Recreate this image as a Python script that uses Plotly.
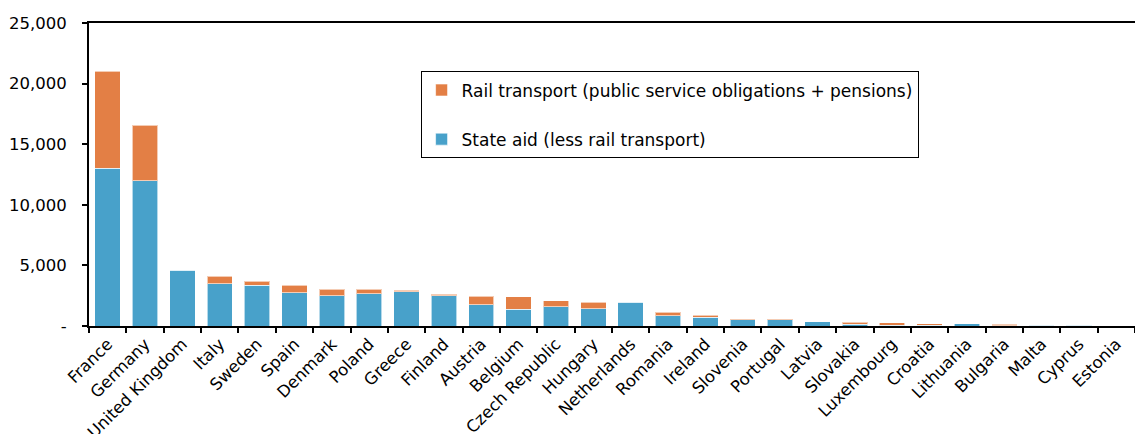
import plotly.graph_objects as go

countries = ["France", "Germany", "United Kingdom", "Italy", "Sweden", "Spain",
             "Denmark", "Poland", "Greece", "Finland", "Austria", "Belgium",
             "Czech Republic", "Hungary", "Netherlands", "Romania", "Ireland",
             "Slovenia", "Portugal", "Latvia", "Slovakia", "Luxembourg", "Croatia",
             "Lithuania", "Bulgaria", "Malta", "Cyprus", "Estonia"]

state_aid = [13000, 12000, 4600, 3490, 3350, 2750, 2500, 2670, 2830, 2500,
             1760, 1400, 1600, 1430, 1950, 850, 740, 530, 530, 340,
             140, 80, 50, 170, 30, 70, 70, 30]

rail_transport = [8000, 4550, 20, 610, 360, 630, 530, 360, 120, 120,
                  690, 1020, 490, 550, 10, 280, 140, 20, 20, 20,
                  190, 170, 120, 10, 120, 5, 5, 5]

y_ticks = [0, 5000, 10000, 15000, 20000, 25000]
y_tick_labels = ["-", "5,000", "10,000", "15,000", "20,000", "25,000"]

BLUE = "#48A1CA"
ORANGE = "#E37F45"
FONT = "DejaVu Sans"

fig = go.Figure()
fig.add_trace(go.Bar(
    x=countries, y=state_aid, name="State aid (less rail transport)",
    marker=dict(color=BLUE, line=dict(color="rgba(255,255,255,0.6)", width=1)),
    legendgroup="a", legendrank=2,
))
fig.add_trace(go.Bar(
    x=countries, y=rail_transport,
    name="Rail transport (public service obligations + pensions)",
    marker=dict(color=ORANGE, line=dict(color="rgba(255,255,255,0.6)", width=1)),
    legendgroup="b", legendrank=1,
))

fig.update_layout(
    width=1135, height=434,
    margin=dict(l=89, r=0, t=23, b=108),
    barmode="stack", bargap=0.32,
    plot_bgcolor="white", paper_bgcolor="white",
    font=dict(family=FONT, size=16.5, color="black"),
    showlegend=True,
    legend=dict(
        x=0.317, y=0.84, xanchor="left", yanchor="top",
        bgcolor="white", bordercolor="black", borderwidth=1,
        traceorder="grouped", tracegroupgap=24,
        font=dict(family=FONT, size=17, color="black"),
        itemwidth=30,
    ),
)
fig.update_xaxes(
    type="category", showline=True, linecolor="black", linewidth=2,
    mirror=True, ticks="outside", tickson="boundaries", ticklen=5,
    tickcolor="black", tickwidth=2, tickangle=-45, showgrid=False,
    automargin=False,
    tickfont=dict(family=FONT, size=16.5),
)
fig.update_yaxes(
    range=[0, 25000], tickvals=y_ticks, ticktext=y_tick_labels,
    showline=True, linecolor="black", linewidth=2, ticks="outside",
    ticklen=5, tickcolor="black", tickwidth=2, showgrid=False, zeroline=False,
    ticklabelstandoff=12, automargin=False,
    tickfont=dict(family=FONT, size=16.5),
)

fig.write_html("out.html")
